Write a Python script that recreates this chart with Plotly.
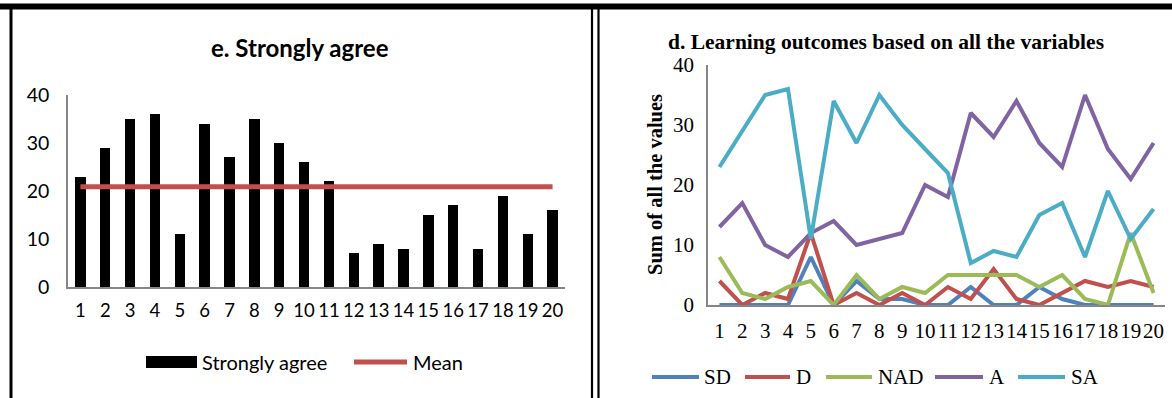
import numpy as np
import plotly.graph_objects as go

W, H = 1172, 398

# ---- data ----
items = list(range(1, 21))
tick_labels = [str(i) for i in items]

strongly_agree = [23, 29, 35, 36, 11, 34, 27, 35, 30, 26, 22, 7, 9, 8, 15, 17, 8, 19, 11, 16]

sd = [0, 0, 0, 0, 8, 0, 4, 1, 1, 0, 0, 3, 0, 0, 3, 1, 0, 0, 0, 0]
d = [4, 0, 2, 1, 12, 0, 2, 0, 2, 0, 3, 1, 6, 1, 0, 2, 4, 3, 4, 3]
nad = [8, 2, 1, 3, 4, 0, 5, 1, 3, 2, 5, 5, 5, 5, 3, 5, 1, 0, 12, 2]
a = [13, 17, 10, 8, 12, 14, 10, 11, 12, 20, 18, 32, 28, 34, 27, 23, 35, 26, 21, 27]
sa = [23, 29, 35, 36, 11, 34, 27, 35, 30, 26, 22, 7, 9, 8, 15, 17, 8, 19, 11, 16]

series_names = ["SD", "D", "NAD", "A", "SA"]
series_values = [sd, d, nad, a, sa]
series_colors = ["#4F81BD", "#C0504D", "#9BBB59", "#8064A2", "#4BACC6"]

mean_value = float(np.mean(strongly_agree))
mean_line = [mean_value] * len(items)


def px(x):
    return x / W


def py(y):
    return 1 - y / H


SANS = "Lato, 'Open Sans', sans-serif"
SERIF = "'Liberation Serif', 'DejaVu Serif', serif"
AXIS_GRAY = "#868686"

fig = go.Figure()

# left panel: bars and mean line
fig.add_trace(go.Bar(x=items, y=strongly_agree, width=0.42, marker=dict(color="black", line=dict(width=0)),
                     name="Strongly agree", xaxis="x", yaxis="y", showlegend=False))
fig.add_trace(go.Scatter(x=items, y=mean_line, mode="lines", line=dict(color="#C0504D", width=5),
                         name="Mean", xaxis="x", yaxis="y", showlegend=False))

# right panel: five response lines
for name, vals, col in zip(series_names, series_values, series_colors):
    fig.add_trace(go.Scatter(x=items, y=vals, mode="lines", line=dict(color=col, width=4),
                             name=name, xaxis="x2", yaxis="y2", showlegend=False))

common_x = dict(range=[0.5, 20.5], tickmode="array", tickvals=items, ticktext=tick_labels,
                tickangle=0, showgrid=False, zeroline=False, showline=True, linecolor=AXIS_GRAY,
                linewidth=1.5, ticks="", fixedrange=True, automargin=False)
common_y = dict(range=[0, 40], tickmode="array", tickvals=[0, 10, 20, 30, 40], showgrid=False,
                zeroline=False, showline=True, linecolor=AXIS_GRAY, linewidth=1.5, ticks="",
                automargin=False)

fig.update_layout(
    width=W, height=H,
    margin=dict(l=0, r=0, t=0, b=0, pad=0, autoexpand=False),
    paper_bgcolor="white", plot_bgcolor="white",
    showlegend=False,
    bargap=0,
    xaxis=dict(common_x, domain=[px(68), px(565)], anchor="y",
               tickfont=dict(family=SANS, size=18.5, color="black"), ticklabelstandoff=6),
    yaxis=dict(common_y, domain=[py(287), py(95)], anchor="x",
               tickfont=dict(family=SANS, size=19.5, color="black"), ticklabelstandoff=13),
    xaxis2=dict(common_x, domain=[px(708), px(1165)], anchor="y2",
                tickfont=dict(family=SERIF, size=21, color="black"), ticklabelstandoff=6),
    yaxis2=dict(common_y, domain=[py(305), py(65)], anchor="x2",
                tickfont=dict(family=SERIF, size=21, color="black"), ticklabelstandoff=8),
)

shapes = []
# frame lines
shapes.append(dict(type="rect", xref="paper", yref="paper", x0=0, x1=1, y0=py(9.5), y1=py(3.5),
                   fillcolor="black", line=dict(width=0)))
shapes.append(dict(type="line", xref="paper", yref="paper", x0=px(11), x1=px(11), y0=py(9), y1=0,
                   line=dict(color="black", width=3)))
for xx in (592, 598.5):
    shapes.append(dict(type="line", xref="paper", yref="paper", x0=px(xx), x1=px(xx), y0=py(9), y1=0,
                       line=dict(color="black", width=2.2)))

annotations = []
annotations.append(dict(text="<b>e. Strongly agree</b>", xref="paper", yref="paper", x=px(300), y=py(48),
                        showarrow=False, font=dict(family=SANS, size=24, color="black"),
                        xanchor="center", yanchor="middle"))
annotations.append(dict(text="<b>d. Learning outcomes based on all the variables</b>", xref="paper",
                        yref="paper", x=px(886), y=py(42), showarrow=False,
                        font=dict(family=SERIF, size=21.5, color="black"), xanchor="center", yanchor="middle"))
annotations.append(dict(text="<b>Sum of all the values</b>", xref="paper", yref="paper", x=px(655), y=py(185),
                        showarrow=False, textangle=-90, font=dict(family=SERIF, size=20.5, color="black"),
                        xanchor="center", yanchor="middle"))

# left legend
ly = 362
shapes.append(dict(type="rect", xref="paper", yref="paper", x0=px(146), x1=px(197), y0=py(ly + 6),
                   y1=py(ly - 6), fillcolor="black", line=dict(width=0)))
annotations.append(dict(text="Strongly agree", xref="paper", yref="paper", x=px(200), y=py(ly),
                        showarrow=False, font=dict(family=SANS, size=20, color="black"),
                        xanchor="left", yanchor="middle"))
shapes.append(dict(type="line", xref="paper", yref="paper", x0=px(354), x1=px(407), y0=py(ly), y1=py(ly),
                   line=dict(color="#C0504D", width=5)))
annotations.append(dict(text="Mean", xref="paper", yref="paper", x=px(411), y=py(ly),
                        showarrow=False, font=dict(family=SANS, size=20, color="black"),
                        xanchor="left", yanchor="middle"))

# right legend
ry = 377
legend_pos = [(652, 699, 702), (745, 790, 794), (826, 872, 876), (935, 983, 987), (1018, 1065, 1069)]
for (x0, x1, tx), name, col in zip(legend_pos, series_names, series_colors):
    shapes.append(dict(type="line", xref="paper", yref="paper", x0=px(x0), x1=px(x1), y0=py(ry), y1=py(ry),
                       line=dict(color=col, width=4)))
    annotations.append(dict(text=name, xref="paper", yref="paper", x=px(tx), y=py(ry), showarrow=False,
                            font=dict(family=SERIF, size=21, color="black"), xanchor="left", yanchor="middle"))

fig.update_layout(shapes=shapes, annotations=annotations)

fig.write_html("out.html")
